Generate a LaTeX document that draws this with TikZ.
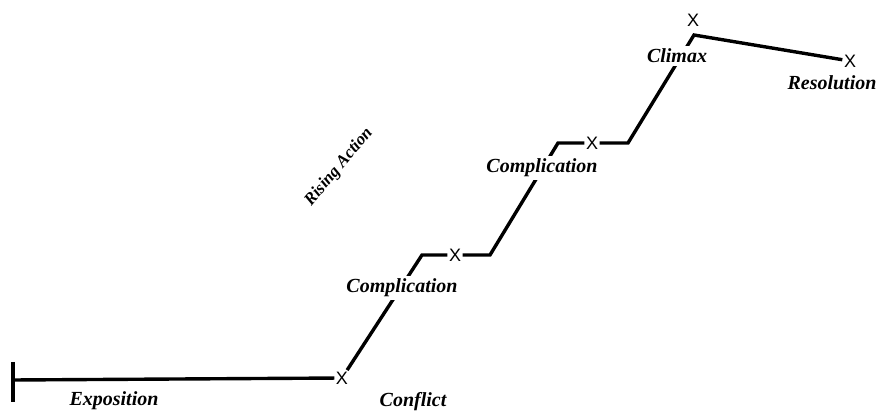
\documentclass[tikz,border=0pt]{standalone}
\usepackage{fontspec}
\setmainfont{Liberation Serif}
\setsansfont{Liberation Sans}
\tikzset{
  stage/.style={font=\fontsize{20}{22}\selectfont\bfseries\itshape, fill=white, inner sep=3pt, anchor=base},
  xmark/.style={font=\fontsize{18}{19}\selectfont\sffamily, inner sep=1.5pt},
  plotline/.style={line width=3.4pt}
}
\begin{document}
\begin{tikzpicture}[x=1pt,y=-1pt]
  \useasboundingbox (0,0) rectangle (879,411);
  % the x marks
  \node[xmark] (conflict) at (342,378) {X};
  \node[xmark] (compA) at (455,255) {X};
  \node[xmark] (compB) at (592,143) {X};
  \node[xmark] (climax) at (693,20) {X};
  \node[xmark] (resolution) at (850,61) {X};
  % corners of the plot line
  \coordinate (tickTop) at (13,362);
  \coordinate (tickBot) at (13,402);
  \coordinate (start) at (13,380);
  \coordinate (bendA) at (422,255);
  \coordinate (bendB) at (490,255);
  \coordinate (bendC) at (558,143);
  \coordinate (bendD) at (628,143);
  \coordinate (peak) at (694,35);
  \draw[plotline] (tickTop) -- (tickBot);
  \draw[plotline] (start) -- (conflict);
  \draw[plotline] (conflict) -- (bendA) -- (compA);
  \draw[plotline] (compA) -- (bendB) -- (bendC) -- (compB);
  \draw[plotline] (compB) -- (bendD) -- (peak) -- (resolution);
  % labels
  \node[stage] (expoText) at (114,406) {Exposition};
  \node[stage] (conflictText) at (413,407) {Conflict};
  \node[stage] (compAText) at (402,293) {Complication};
  \node[stage] (compBText) at (542,173) {Complication};
  \node[stage] (climaxText) at (677,63) {Climax};
  \node[stage] (resText) at (832,90) {Resolution};
  \node[font=\fontsize{17}{18}\selectfont\bfseries\itshape, rotate=50] (risingText) at (339,167) {Rising Action};
\end{tikzpicture}
\end{document}
